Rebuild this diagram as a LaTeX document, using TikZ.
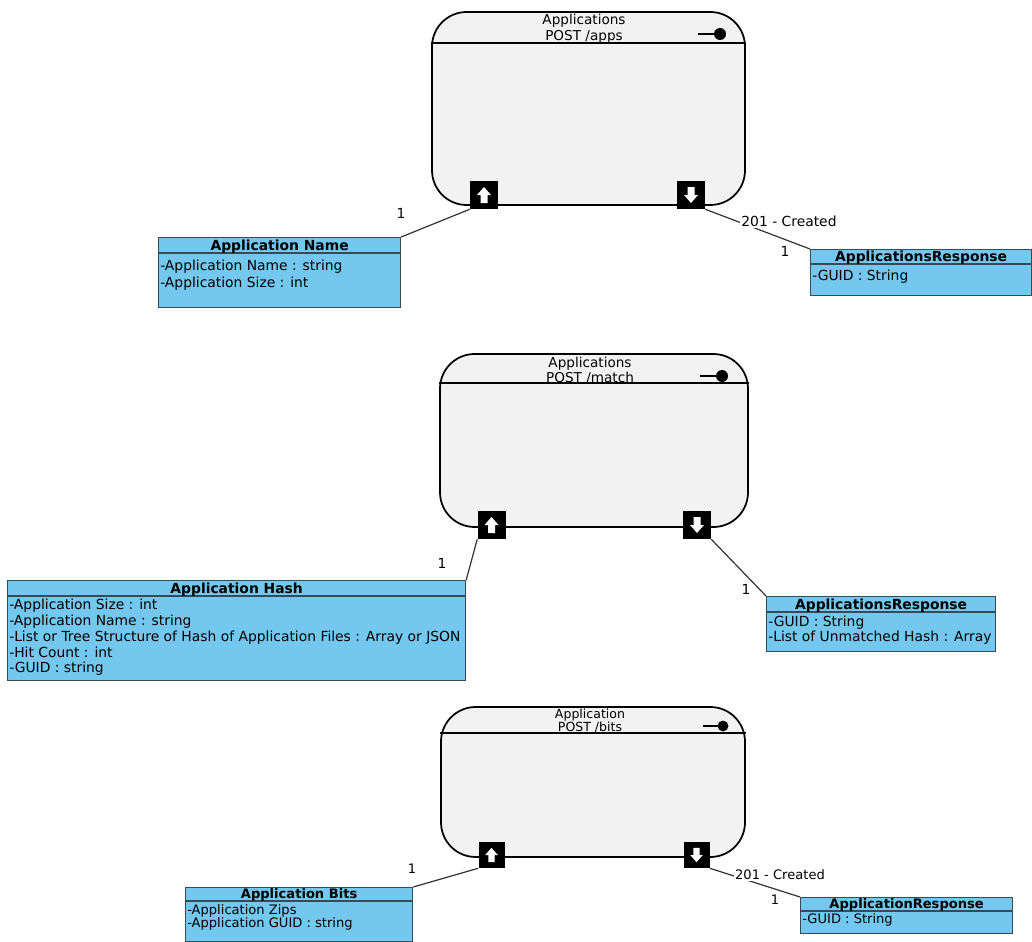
\documentclass[tikz,border=0pt]{standalone}
\usepackage{fontspec}
\setmainfont{DejaVu Sans}
\usetikzlibrary{calc}
\definecolor{compgray}{HTML}{F2F2F2}
\definecolor{clsblue}{HTML}{74C7EF}
\definecolor{clsborder}{HTML}{3A4A55}
\definecolor{linegray}{HTML}{333333}
\begin{document}
\begin{tikzpicture}[x=0.75pt,y=-0.75pt,
  comp/.style={draw=black, line width=1.3pt, fill=compgray, rounded corners=26pt, inner sep=0},
  port/.style={fill=black, minimum size=21pt, inner sep=0},
  cls/.style={draw=clsborder, line width=0.9pt, fill=clsblue, inner sep=0},
  hline/.style={draw=black, line width=1.1pt},
  chline/.style={draw=clsborder, line width=0.8pt},
  ttl/.style={font=\fontsize{10.2}{11}\selectfont, inner sep=0, anchor=base},
  ttlsmall/.style={font=\fontsize{9.4}{10}\selectfont, inner sep=0, anchor=base},
  hdr/.style={font=\fontsize{10.4}{11}\selectfont\bfseries, inner sep=0, anchor=base},
  hdrsmall/.style={font=\fontsize{9.8}{10}\selectfont\bfseries, inner sep=0, anchor=base},
  attr/.style={font=\fontsize{10.4}{11}\selectfont, anchor=base west, inner sep=0},
  attrsmall/.style={font=\fontsize{9.8}{10}\selectfont, anchor=base west, inner sep=0},
  lbl/.style={font=\fontsize{10.4}{11}\selectfont, inner sep=1pt},
  lblsmall/.style={font=\fontsize{9.8}{10}\selectfont, inner sep=1pt},
  conn/.style={draw=linegray, line width=0.9pt},
  uparr/.pic={\fill[white] (-7,0)--(0,-8)--(7,0)--(3.5,0)--(3.5,8)--(-3.5,8)--(-3.5,0)--cycle;},
  dnarr/.pic={\fill[white] (-7,0)--(0,8)--(7,0)--(3.5,0)--(3.5,-8)--(-3.5,-8)--(-3.5,0)--cycle;},
  dot/.pic={\draw[line width=1.3pt] (-22,0)--(-6,0); \fill (0,0) circle[radius=6];}]
\useasboundingbox[fill=white] (0,0) rectangle (1032,942);

% ---------------- Component 1 ----------------
\node[comp, minimum width=313*0.75pt, minimum height=193*0.75pt] (k1) at (588.5,108.5) {};
\draw[hline] ($(k1.north west)+(0,32)$) -- ($(k1.north east)+(0,32)$);
\node[ttl] (k1t) at (584,25) {Applications};
\node[ttl] (k1s) at (584,41) {POST /apps};
\pic at (720,34) {dot};
\node[port] (p1l) at (484,195) {};
\pic at (p1l) {uparr};
\node[port] (p1r) at (691,195) {};
\pic at (p1r) {dnarr};

\node[cls, minimum width=242*0.75pt, minimum height=70*0.75pt, anchor=north west] (c1) at (158,237) {};
\draw[chline] ($(c1.north west)+(0,16)$) -- ($(c1.north east)+(0,16)$);
\node[hdr] at ($(c1.north)+(0,13)$) {Application Name};
\node[attr] at ($(c1.north west)+(2,33)$) {-Application Name : string};
\node[attr] at ($(c1.north west)+(2,50)$) {-Application Size : int};

\node[cls, minimum width=221*0.75pt, minimum height=46*0.75pt, anchor=north west] (c2) at (810,249) {};
\draw[chline] ($(c2.north west)+(0,15)$) -- ($(c2.north east)+(0,15)$);
\node[hdr] at ($(c2.north)+(0,12.5)$) {ApplicationsResponse};
\node[attr] at ($(c2.north west)+(2,31)$) {-GUID : String};

\draw[conn] (p1l.south west) -- (c1.north east);
\node[lbl] (m1) at (401,213) {1};
\draw[conn] (p1r.south east) -- (c2.north west);
\node[lbl, fill=white] (m2) at (789,221) {201 - Created};
\node[lbl] (m3) at (785,251) {1};

% ---------------- Component 2 ----------------
\node[comp, minimum width=308*0.75pt, minimum height=173*0.75pt] (k2) at (594,440.5) {};
\draw[hline] ($(k2.north west)+(0,30)$) -- ($(k2.north east)+(0,30)$);
\node[ttl] (k2t) at (590,367) {Applications};
\node[ttl] (k2s) at (590,382) {POST /match};
\pic at (722,376) {dot};
\node[port] (p2l) at (491.5,525) {};
\pic at (p2l) {uparr};
\node[port] (p2r) at (697,525) {};
\pic at (p2r) {dnarr};

\node[cls, minimum width=458*0.75pt, minimum height=100*0.75pt, anchor=north west] (c3) at (7,580) {};
\draw[chline] ($(c3.north west)+(0,16)$) -- ($(c3.north east)+(0,16)$);
\node[hdr] at ($(c3.north)+(0,13)$) {Application Hash};
\node[attr] at ($(c3.north west)+(2,29)$) {-Application Size : int};
\node[attr] at ($(c3.north west)+(2,45)$) {-Application Name : string};
\node[attr] at ($(c3.north west)+(2,61)$) {-List or Tree Structure of Hash of Application Files : Array or JSON};
\node[attr] at ($(c3.north west)+(2,77)$) {-Hit Count : int};
\node[attr] at ($(c3.north west)+(2,92)$) {-GUID : string};

\node[cls, minimum width=229*0.75pt, minimum height=55*0.75pt, anchor=north west] (c4) at (766,596) {};
\draw[chline] ($(c4.north west)+(0,16)$) -- ($(c4.north east)+(0,16)$);
\node[hdr] at ($(c4.north)+(0,13)$) {ApplicationsResponse};
\node[attr] at ($(c4.north west)+(2,30)$) {-GUID : String};
\node[attr] at ($(c4.north west)+(2,45)$) {-List of Unmatched Hash : Array};

\draw[conn] (p2l.south west) -- (c3.north east);
\node[lbl] (m4) at (442,563) {1};
\draw[conn] (p2r.south east) -- (c4.north west);
\node[lbl] (m5) at (746,589) {1};

% ---------------- Component 3 ----------------
\node[comp, minimum width=304*0.75pt, minimum height=150*0.75pt] (k3) at (593,782) {};
\draw[hline] ($(k3.north west)+(0,27)$) -- ($(k3.north east)+(0,27)$);
\node[ttlsmall] (k3t) at (590,718) {Application};
\node[ttlsmall] (k3s) at (590,731) {POST /bits};
\pic[scale=0.9] at (723,726) {dot};
\node[port, minimum size=19.5pt] (p3l) at (491.5,855) {};
\pic[scale=0.9] at (p3l) {uparr};
\node[port, minimum size=19.5pt] (p3r) at (696.5,855) {};
\pic[scale=0.9] at (p3r) {dnarr};

\node[cls, minimum width=227*0.75pt, minimum height=54*0.75pt, anchor=north west] (c5) at (185,887) {};
\draw[chline] ($(c5.north west)+(0,14)$) -- ($(c5.north east)+(0,14)$);
\node[hdrsmall] at ($(c5.north)+(0,11.5)$) {Application Bits};
\node[attrsmall] at ($(c5.north west)+(2,27)$) {-Application Zips};
\node[attrsmall] at ($(c5.north west)+(2,40)$) {-Application GUID : string};

\node[cls, minimum width=212*0.75pt, minimum height=36*0.75pt, anchor=north west] (c6) at (800,897) {};
\draw[chline] ($(c6.north west)+(0,14)$) -- ($(c6.north east)+(0,14)$);
\node[hdrsmall] at ($(c6.north)+(0,11.5)$) {ApplicationResponse};
\node[attrsmall] at ($(c6.north west)+(2,26)$) {-GUID : String};

\draw[conn] (p3l.south west) -- (c5.north east);
\node[lblsmall] (m6) at (412,869) {1};
\draw[conn] (p3r.south east) -- (c6.north west);
\node[lblsmall, fill=white] (m7) at (780,875) {201 - Created};
\node[lblsmall] (m8) at (775,900) {1};
\end{tikzpicture}
\end{document}
